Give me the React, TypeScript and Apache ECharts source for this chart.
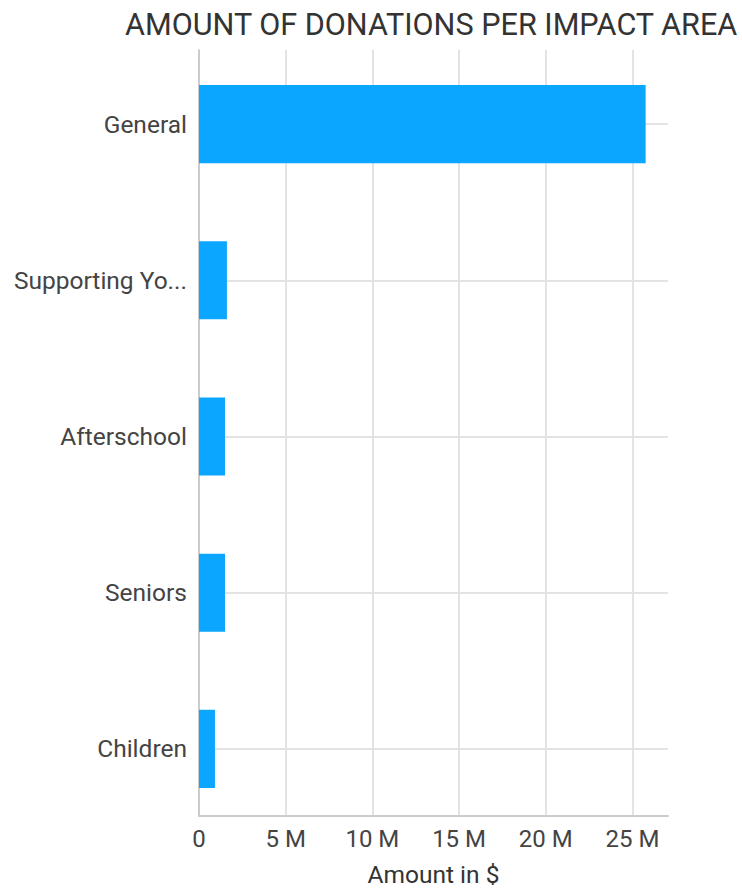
import React, { useEffect, useRef } from "react";
import * as echarts from "echarts";

const categories = ["General", "Supporting Yo...", "Afterschool", "Seniors", "Children"];
const amounts = [25760000, 1610000, 1500000, 1500000, 920000];
const axisMax = 27050000;
const tickInterval = 5000000;
const titleText = "AMOUNT OF DONATIONS PER IMPACT AREA";
const xAxisName = "Amount in $";

export default function App() {
  const ref = useRef<HTMLDivElement>(null);
  useEffect(() => {
    if (!ref.current) return;
    const chart = echarts.init(ref.current, null, { renderer: "svg" });
    const font = "Roboto";
    const auxData = Array.from({ length: categories.length * 2 + 1 }, (_, i) => String(i));
    chart.setOption({
      animation: false,
      backgroundColor: "#ffffff",
      title: {
        text: titleText,
        left: 120,
        top: 4,
        textStyle: { fontFamily: font, fontSize: 30.6, fontWeight: "normal", color: "#333333" },
      },
      grid: [
        { left: 199, right: 74, top: 50, bottom: 69, containLabel: false },
        { left: 199, right: 74, top: 46, bottom: 65, containLabel: false },
      ],
      xAxis: [
        {
          type: "value",
          gridIndex: 0,
          min: 0,
          max: axisMax,
          interval: tickInterval,
          name: xAxisName,
          nameLocation: "middle",
          nameGap: 46,
          nameTextStyle: { fontFamily: font, fontSize: 24.5, color: "#333333" },
          axisLine: { show: true, lineStyle: { color: "#cccccc", width: 2 } },
          axisTick: { show: false },
          axisLabel: {
            fontFamily: font,
            fontSize: 24,
            color: "#444444",
            margin: 11,
            showMaxLabel: false,
            formatter: (v: number) => (v === 0 ? "0" : v / 1000000 + " M"),
          },
          splitLine: { show: true, showMaxLine: false, lineStyle: { color: "#e3e3e3", width: 2 } },
        },
        {
          type: "value",
          gridIndex: 1,
          min: 0,
          max: axisMax,
          interval: tickInterval,
          show: false,
          splitLine: { show: false },
        },
      ],
      yAxis: [
        {
          type: "category",
          gridIndex: 0,
          data: categories,
          axisLine: { show: true, lineStyle: { color: "#cccccc", width: 2 } },
          axisTick: { show: false },
          axisLabel: { show: false },
          splitLine: { show: false },
        },
        {
          type: "category",
          gridIndex: 1,
          data: categories,
          inverse: true,
          axisLine: { show: false },
          axisTick: { show: false },
          axisLabel: { fontFamily: font, fontSize: 24.5, color: "#444444", margin: 12 },
          splitLine: { show: false },
        },
        {
          type: "category",
          gridIndex: 1,
          data: auxData,
          boundaryGap: false,
          position: "left",
          axisLine: { show: false },
          axisTick: { show: false },
          axisLabel: { show: false },
          splitLine: {
            show: true,
            interval: (idx: number) => idx % 2 === 1,
            lineStyle: { color: "#e3e3e3", width: 2 },
          },
        },
      ],
      series: [
        {
          type: "bar",
          xAxisIndex: 1,
          yAxisIndex: 1,
          data: amounts,
          barCategoryGap: "50%",
          itemStyle: { color: "#0AA6FF" },
          z: 3,
        },
      ],
    });
    return () => chart.dispose();
  }, []);
  return <div ref={ref} style={{ width: 742, height: 892, position: "absolute", left: 0, top: 0 }} />;
}
